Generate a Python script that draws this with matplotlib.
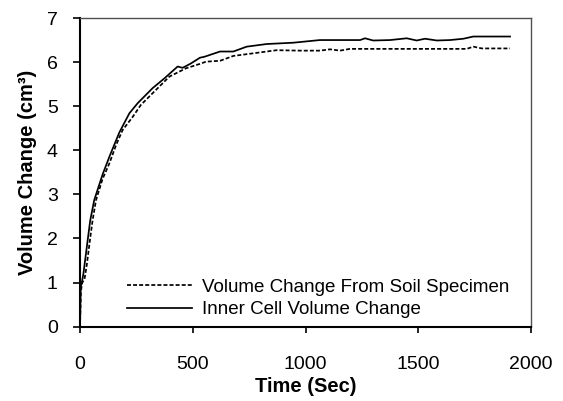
import numpy as np
import matplotlib
matplotlib.use('Agg')
import matplotlib.pyplot as plt

plt.rcParams['font.family'] = ['Liberation Sans', 'DejaVu Sans']

# Volume change from soil specimen (dashed)
t_soil = [0, 4, 10, 20, 30, 45, 56, 71, 100, 130, 160, 189, 234, 270, 337, 396, 470, 532,
          559, 621, 680, 769, 872, 976, 1064, 1109, 1153, 1197, 1400, 1600, 1715, 1744,
          1782, 1907]
v_soil = [0, 0.8, 1.0, 1.08, 1.4, 2.0, 2.42, 2.87, 3.35, 3.70, 4.12, 4.46, 4.76, 5.03, 5.37,
          5.67, 5.86, 5.96, 6.01, 6.03, 6.14, 6.20, 6.27, 6.26, 6.26, 6.29, 6.26, 6.30, 6.30,
          6.30, 6.30, 6.35, 6.31, 6.31]

# Inner cell volume change (solid)
t_cell = [0, 3, 8, 15, 30, 45, 63, 100, 130, 174, 219, 256, 322, 374, 433, 455, 492, 532,
          551, 621, 680, 739, 828, 946, 1064, 1242, 1264, 1300, 1375, 1449, 1493, 1530,
          1582, 1641, 1700, 1744, 1907]
v_cell = [0, 0.9, 1.0, 1.2, 1.8, 2.4, 2.87, 3.45, 3.85, 4.40, 4.84, 5.07, 5.41, 5.63, 5.90,
          5.87, 5.97, 6.10, 6.12, 6.24, 6.24, 6.35, 6.41, 6.44, 6.50, 6.50, 6.54, 6.49, 6.50,
          6.54, 6.49, 6.53, 6.49, 6.50, 6.53, 6.58, 6.58]

fig = plt.figure(figsize=(5.63, 4.01), dpi=100)
ax = fig.add_axes([0.1421, 0.1853, 0.8011, 0.7698])

ax.plot(t_soil, v_soil, color='black', lw=1.25, dashes=(2.3, 1.2),
        label='Volume Change From Soil Specimen')
ax.plot(t_cell, v_cell, color='black', lw=1.25, label='Inner Cell Volume Change')

ax.set_xlim(0, 2000)
ax.set_ylim(0, 7)
ax.set_xticks([0, 500, 1000, 1500, 2000])
ax.set_yticks(range(8))

for s in ['left', 'bottom']:
    ax.spines[s].set_color('black')
    ax.spines[s].set_linewidth(1.5)
for s in ['top', 'right']:
    ax.spines[s].set_color('#505050')
    ax.spines[s].set_linewidth(1.0)

ax.tick_params(axis='y', direction='out', length=5, width=1.2, pad=11, labelsize=14)
ax.tick_params(axis='x', direction='out', length=4, width=1.2, pad=17, labelsize=14)

ax.set_xlabel('Time (Sec)', fontsize=14.5, fontweight='bold', labelpad=3)
ax.set_ylabel('Volume Change (cm³)', fontsize=14.5, fontweight='bold', labelpad=7)

ax.legend(loc='lower left', bbox_to_anchor=(0.104, 0.027), frameon=False,
          fontsize=13.5, handlelength=3.47, handletextpad=0.55, labelspacing=0.3,
          borderpad=0, borderaxespad=0)

fig.savefig('out.png', dpi=100)
